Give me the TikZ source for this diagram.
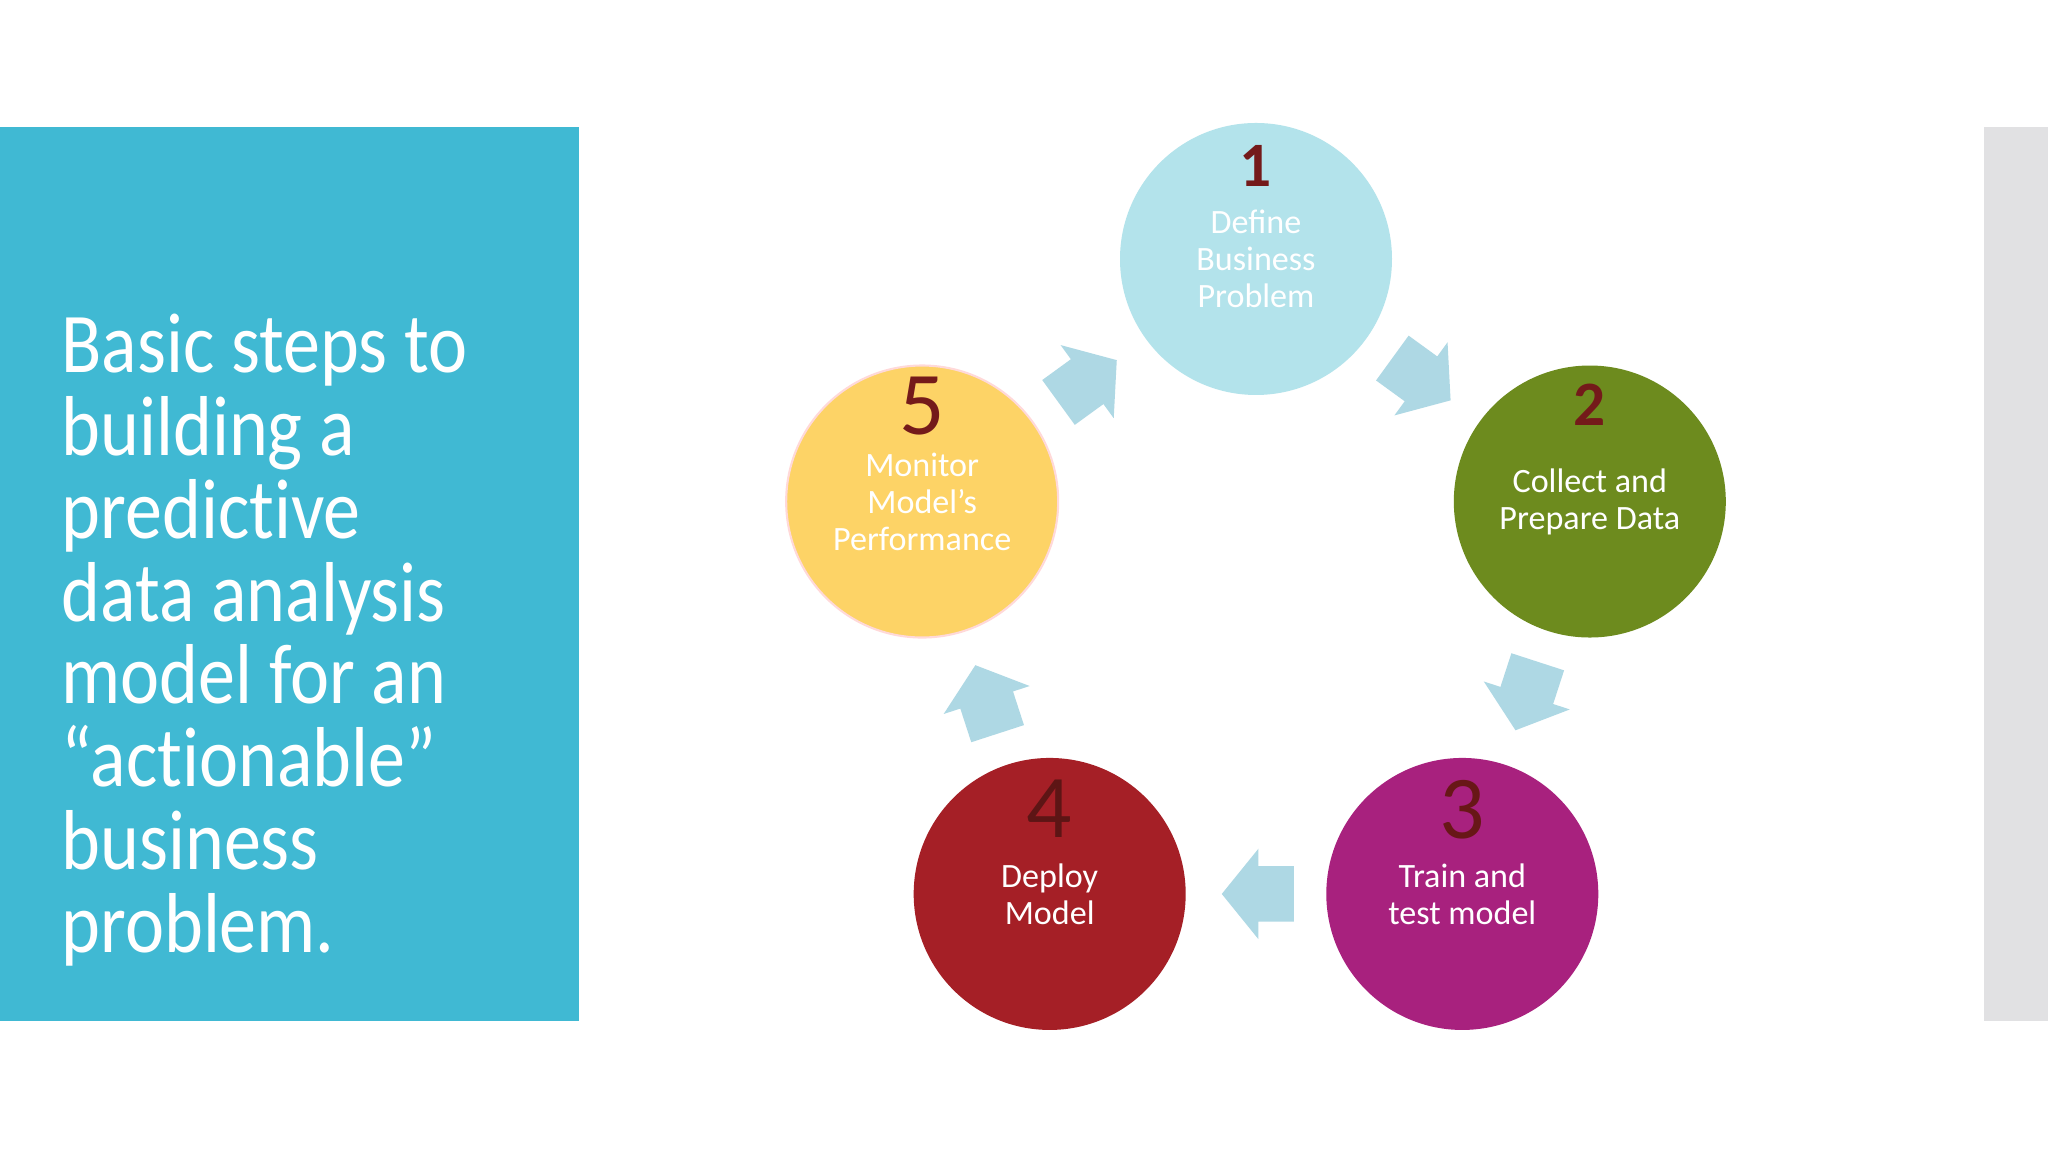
\documentclass[tikz,border=0pt]{standalone}
\usepackage{fontspec}
\setmainfont{Carlito}
\newfontfamily\titlefont[FakeStretch=0.87,Ligatures=NoCommon]{Carlito}
\usepackage{xcolor}
\usepackage{tikz}
\usetikzlibrary{shapes.arrows,positioning,calc}

\definecolor{panelblue}{HTML}{40B9D3}
\definecolor{panelgrey}{HTML}{E1E1E3}
\definecolor{stepA}{HTML}{B3E3EB}
\definecolor{stepB}{HTML}{6D8B1E}
\definecolor{stepC}{HTML}{A8217E}
\definecolor{stepD}{HTML}{A51F26}
\definecolor{stepE}{HTML}{FDD366}
\definecolor{numred}{HTML}{741A1A}
\definecolor{flowblue}{HTML}{AED8E4}

\tikzset{
  stepcircle/.style={circle,minimum size=2.72cm,inner sep=0pt,align=center,
    text=white,font=\fontsize{9.7}{10.5}\selectfont},
  stepnum/.style={anchor=base,inner sep=0pt},
  flowarrow/.style={single arrow,fill=flowblue,draw=none,inner xsep=0pt,inner ysep=0.27cm,
    minimum height=0.72cm,single arrow head extend=0.175cm,single arrow tip angle=102}
}

\begin{document}
\begin{tikzpicture}
        \useasboundingbox[fill=white] (0,0) rectangle (20.48,11.52);
        \fill[panelblue] (0,1.31) rectangle (5.79,10.25);
        \fill[panelgrey] (19.84,1.31) rectangle (20.48,10.25);
        \node[anchor=north west,align=left,text=white,inner sep=0pt,
          font=\titlefont\fontsize{24.2}{23.6}\selectfont] (title) at (0.61,8.39)
          {Basic steps to\\building a\\predictive\\data analysis\\model for an\\%
           “actionable”\\business\\problem.};
        \coordinate (hub) at (12.56,5.42);
        \node[stepcircle,fill=stepA] (s1) at ($(hub)+(90:3.51)$) {Define\\Business\\Problem};
        \node[stepcircle,fill=stepB] (s2) at ($(hub)+(18:3.51)$) {Collect and\\Prepare Data};
        \node[stepcircle,fill=stepC] (s3) at ($(hub)+(-54:3.51)$) {Train and\\test model};
        \node[stepcircle,fill=stepD] (s4) at ($(hub)+(-126:3.51)$) {Deploy\\Model};
        \node[stepcircle,fill=stepE,draw=pink!60,line width=0.6pt] (s5) at ($(hub)+(162:3.51)$)
          {Monitor\\Model’s\\Performance};
        \foreach \a/\b/\r in {s1/s2/-36, s2/s3/-108, s3/s4/180, s4/s5/108, s5/s1/36}
          \node[flowarrow,rotate=\r] at ($(\a)!0.5!(\b)!0.13cm!(\a)$) {};
        \foreach \n/\k/\h/\f/\c in {s1/1/0.72/\bfseries\fontsize{18}{18}/numred,
            s2/2/0.76/\bfseries\fontsize{18}{18}/numred,
            s5/5/0.67/\mdseries\fontsize{25.5}{25.5}/numred,
            s3/3/0.55/\mdseries\fontsize{25.5}{25.5}/numred!90!black,
            s4/4/0.56/\mdseries\fontsize{25.5}{25.5}/numred!80!black}
          \node[stepnum,text=\c,font=\f\selectfont] at ($(\n)+(0,\h)$) {\k};
\end{tikzpicture}
\end{document}
